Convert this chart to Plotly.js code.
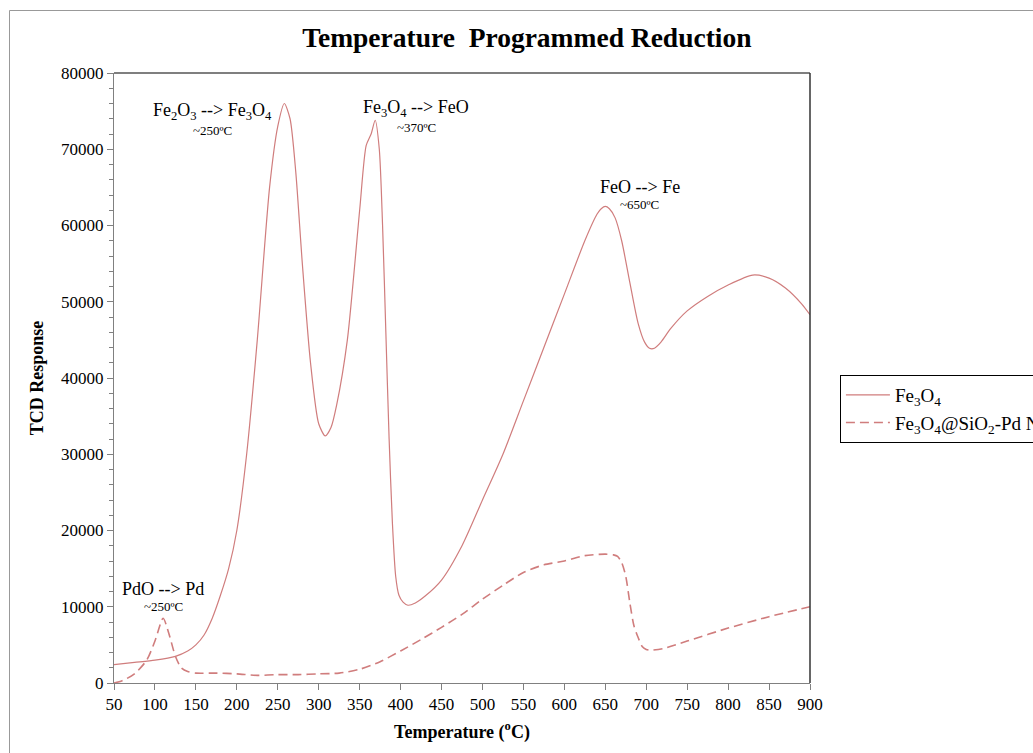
<!DOCTYPE html>
<html>
<head>
<meta charset="utf-8">
<script src="https://cdn.plot.ly/plotly-3.0.1.min.js"></script>
<style>html,body{margin:0;padding:0;background:#fff;}#chart{width:1033px;height:753px;}</style>
</head>
<body>
<div id="chart"></div>
<script>
// Fe3O4 (solid)
const tempFe = [50,75,100,125,140,150,160,170,180,190,200,212,225,240,250,258,265,272,280,290,300,308,315,322,335,350,358,364,369,374,378,382,386,390,394,398,403,409,418,430,450,475,500,525,550,575,600,625,640,645,650,655,662,670,680,690,698,704,710,718,730,750,775,800,830,850,870,890,900];
const tcdFe  = [2400,2700,3000,3500,4200,5000,6300,8500,11500,15000,20000,30000,45000,65000,73000,76000,74000,67000,55000,42000,34000,32400,33500,36500,45000,62000,70500,72000,73800,70000,60000,46000,32000,21000,14000,11500,10600,10200,10500,11400,13500,18000,24000,30000,37000,44000,51000,58000,61500,62200,62500,62200,61000,58000,52500,47200,44700,43900,43900,44700,46500,48800,50700,52200,53500,53100,51800,49700,48300];
// Fe3O4@SiO2-Pd (dashed)
const tempPd = [50,60,75,90,100,110,117,125,132,140,150,175,200,225,250,275,300,325,350,375,400,425,450,475,500,525,550,575,600,625,650,660,665,670,675,680,685,690,695,700,705,720,750,800,850,900];
const tcdPd  = [0,300,1200,3000,5500,8500,6500,3500,2000,1500,1300,1300,1200,1000,1100,1100,1200,1300,1800,2800,4200,5700,7300,9000,11000,12800,14500,15500,16000,16700,16900,16800,16600,15800,14000,10500,7500,6000,4800,4400,4300,4500,5500,7200,8700,10000];
const seriesNames = ['Fe<sub>3</sub>O<sub>4</sub>', 'Fe<sub>3</sub>O<sub>4</sub>@SiO<sub>2</sub>-Pd NPs'];
const xTicks = [50,100,150,200,250,300,350,400,450,500,550,600,650,700,750,800,850,900];
const yTicks = [0,10000,20000,30000,40000,50000,60000,70000,80000];

const serif = "'Liberation Serif', 'Times New Roman', serif";
const lineColor = 'rgb(208,125,125)';

const traces = [
  {x: tempFe, y: tcdFe, name: seriesNames[0], mode: 'lines', type: 'scatter',
   line: {color: lineColor, width: 1.2, shape: 'spline', smoothing: 0.7}},
  {x: tempPd, y: tcdPd, name: seriesNames[1], mode: 'lines', type: 'scatter',
   line: {color: lineColor, width: 1.6, dash: '9px,5px', shape: 'spline', smoothing: 0.7}}
];

const annFont = {family: serif, size: 18, color: '#000'};
const smallFont = {family: serif, size: 13, color: '#000'};
const annotations = [
  {x: 170, y: 75000, text: 'Fe<sub>2</sub>O<sub>3</sub> --> Fe<sub>3</sub>O<sub>4</sub>', font: annFont},
  {x: 170, y: 72500, text: '~250ºC', font: smallFont},
  {x: 419, y: 75300, text: 'Fe<sub>3</sub>O<sub>4</sub> --> FeO', font: annFont},
  {x: 420, y: 72900, text: '~370ºC', font: smallFont},
  {x: 692, y: 65000, text: 'FeO --> Fe', font: annFont},
  {x: 692, y: 62800, text: '~650ºC', font: smallFont},
  {x: 110, y: 12300, text: 'PdO --> Pd', font: annFont},
  {x: 110, y: 10000, text: '~250ºC', font: smallFont}
].map(a => Object.assign({xref: 'x', yref: 'y', showarrow: false, xanchor: 'center', yanchor: 'middle'}, a));

const layout = {
  width: 1033, height: 753,
  paper_bgcolor: '#fff', plot_bgcolor: '#fff',
  margin: {l: 114, r: 223, t: 73, b: 70, autoexpand: false},
  title: {text: '<b>Temperature  Programmed Reduction</b>', x: 0.51, xanchor: 'center', y: 0.95, yanchor: 'middle',
          font: {family: serif, size: 27.5, color: '#000'}},
  xaxis: {range: [50, 900], tickvals: xTicks, ticktext: xTicks.map(String), ticks: 'outside', ticklen: 6,
          tickcolor: '#808080', showline: true, linecolor: '#808080', linewidth: 1, showgrid: false, zeroline: false,
          tickfont: {family: serif, size: 17, color: '#000'},
          title: {text: '<b>Temperature (<sup>o</sup>C)</b>', font: {family: serif, size: 18, color: '#000'}, standoff: 11}},
  yaxis: {range: [0, 80000], tickvals: yTicks, ticktext: yTicks.map(String), ticks: 'outside', ticklen: 6,
          tickcolor: '#808080', showline: true, linecolor: '#808080', linewidth: 1, showgrid: false, zeroline: false,
          tickfont: {family: serif, size: 17, color: '#000'},
          minor: {dtick: 2000, ticks: 'outside', ticklen: 4, tickcolor: '#808080', showgrid: false},
          title: {text: '<b>TCD Response</b>', font: {family: serif, size: 18, color: '#000'}, standoff: 12}},
  legend: {x: 1.043, xanchor: 'left', y: 0.505, yanchor: 'top', bgcolor: '#fff', bordercolor: '#000', borderwidth: 1,
           font: {family: serif, size: 19, color: '#000'}, tracegroupgap: 0, itemwidth: 44},
  showlegend: true,
  annotations: annotations,
  shapes: [
    {type: 'line', xref: 'paper', yref: 'paper', x0: 0, x1: 1, y0: 1, y1: 1, line: {color: '#000', width: 1.2}},
    {type: 'line', xref: 'paper', yref: 'paper', x0: 1, x1: 1, y0: 0, y1: 1, line: {color: '#333', width: 1.5}},
    {type: 'rect', xref: 'paper', yref: 'paper', x0: (9.5 - 114) / 696, x1: 2, y0: -1, y1: (683 - 10.5) / 610,
     line: {color: '#999', width: 1}, layer: 'below'}
  ]
};

Plotly.newPlot('chart', traces, layout, {displayModeBar: false, staticPlot: true});
</script>
</body>
</html>
